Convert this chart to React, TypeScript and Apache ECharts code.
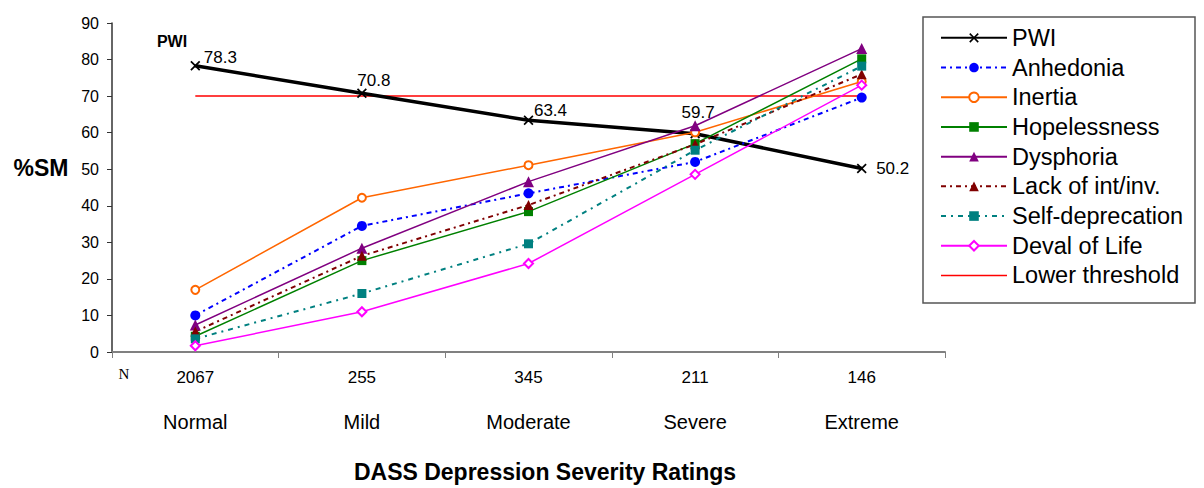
import React, { useEffect, useRef } from "react";
import * as echarts from "echarts";

const categories = ["Normal", "Mild", "Moderate", "Severe", "Extreme"];
const nValues = ["2067", "255", "345", "211", "146"];
const yTicks = { min: 0, max: 90, interval: 10 };

const pwi = [78.3, 70.8, 63.4, 59.7, 50.2];
const anhedonia = [10, 34.5, 43.4, 52, 69.6];
const inertia = [17, 42.2, 51.1, 60.1, 74];
const hopelessness = [4.3, 25, 38.4, 57, 80.2];
const dysphoria = [7.4, 28.4, 46.6, 61.9, 83];
const lackOfInt = [5.6, 26.3, 40.2, 56.8, 76];
const selfDeprecation = [3.6, 16, 29.6, 55.2, 78.2];
const devalOfLife = [1.7, 11, 24.2, 48.6, 73];
const lowerThreshold = [70, 70, 70, 70, 70];

const FONT = '"Liberation Sans", Arial, sans-serif';
const X_PATH =
  "path://M0,1.2 L1.2,0 L5,3.8 L8.8,0 L10,1.2 L6.2,5 L10,8.8 L8.8,10 L5,6.2 L1.2,10 L0,8.8 L3.8,5 Z";
const LINE_ICON = "path://M0,0 L66,0 L66,1.5 L0,1.5 Z";

// label offsets (style only) for PWI values
const pwiLabelOffsets = [
  [25, -8],
  [12, -13],
  [22, -10],
  [3, -21],
  [31, 0],
];

export default function App() {
  const ref = useRef<HTMLDivElement>(null);
  useEffect(() => {
    if (!ref.current) return;
    const chart = echarts.init(ref.current, undefined, { renderer: "svg" });
    const mk = (
      name: string,
      data: number[],
      color: string,
      symbol: string,
      symbolSize: number,
      lineType: any,
      width: number
    ) => ({
      name,
      type: "line",
      data,
      symbol,
      symbolSize,
      showSymbol: symbol !== "none",
      itemStyle: { color, borderColor: color, borderWidth: symbol.startsWith("empty") ? 1.5 : 0 },
      lineStyle: { color, type: lineType, width },
      emphasis: { disabled: true },
    });
    const option: any = {
      animation: false,
      backgroundColor: "#ffffff",
      textStyle: { fontFamily: FONT },
      grid: { left: 112, right: 259, top: 23, bottom: 136, containLabel: false },
      xAxis: {
        type: "category",
        data: categories,
        boundaryGap: true,
        axisLine: { lineStyle: { color: "#808080", width: 2 } },
        axisTick: { show: true, length: 6, lineStyle: { color: "#808080", width: 1 }, alignWithLabel: false },
        axisLabel: {
          interval: 0,
          margin: 3,
          color: "#000",
          formatter: (v: string, i: number) => `{n|${nValues[i]}}\n{c|${v}}`,
          rich: {
            n: { fontSize: 17, lineHeight: 45, fontFamily: FONT, color: "#000" },
            c: { fontSize: 20, lineHeight: 44, fontFamily: FONT, color: "#000" },
          },
        },
        splitLine: { show: false },
      },
      yAxis: {
        type: "value",
        min: yTicks.min,
        max: yTicks.max,
        interval: yTicks.interval,
        axisLine: { show: true, lineStyle: { color: "#333", width: 1.5 } },
        axisTick: { show: true, length: 5, lineStyle: { color: "#333" } },
        axisLabel: { fontSize: 16, color: "#000", margin: 13, fontFamily: FONT },
        splitLine: { show: false },
      },
      legend: {
        orient: "vertical",
        left: 940,
        top: 23,
        padding: 0,
        itemWidth: 66,
        itemHeight: 12,
        itemGap: 0,
        textStyle: { fontSize: 23.5, lineHeight: 29.7, color: "#000", fontFamily: FONT },
        data: [
          "PWI",
          "Anhedonia",
          "Inertia",
          "Hopelessness",
          "Dysphoria",
          "Lack of int/inv.",
          "Self-deprecation",
          "Deval of Life",
          { name: "Lower threshold", icon: LINE_ICON },
        ],
      },
      graphic: [
        {
          type: "rect",
          shape: { x: 923, y: 17, width: 272, height: 286 },
          style: { fill: "none", stroke: "#555", lineWidth: 1.5 },
          z: 0,
        },
        {
          type: "text",
          x: 41,
          y: 168,
          style: { text: "%SM", font: `bold 23px ${FONT}`, fill: "#000", align: "center", verticalAlign: "middle" },
        },
        {
          type: "text",
          x: 172,
          y: 41,
          style: { text: "PWI", font: `bold 16px ${FONT}`, fill: "#000", align: "center", verticalAlign: "middle" },
        },
        {
          type: "text",
          x: 124,
          y: 374,
          style: { text: "N", font: `15px "Liberation Serif", "Times New Roman", serif`, fill: "#000", align: "center", verticalAlign: "middle" },
        },
        {
          type: "text",
          x: 545,
          y: 472,
          style: {
            text: "DASS Depression Severity Ratings",
            font: `bold 23px ${FONT}`,
            fill: "#000",
            align: "center",
            verticalAlign: "middle",
          },
        },
      ],
      series: [
        mk("Lower threshold", lowerThreshold, "#ff0000", "none", 0, "solid", 1.5),
        {
          ...mk("PWI", pwi, "#000000", X_PATH, 10, "solid", 3.5),
          z: 3,
          data: pwi.map((v, i) => ({
            value: v,
            label: {
              show: true,
              position: "inside",
              offset: pwiLabelOffsets[i],
              formatter: String(v),
              fontSize: 17,
              color: "#000",
              fontFamily: FONT,
            },
          })),
        },
        mk("Anhedonia", anhedonia, "#0000ff", "circle", 10, [5, 4, 2, 4], 2),
        mk("Inertia", inertia, "#ff6600", "emptyCircle", 8, "solid", 1.5),
        mk("Hopelessness", hopelessness, "#008000", "rect", 9, "solid", 1.5),
        mk("Dysphoria", dysphoria, "#800080", "triangle", 11, "solid", 1.5),
        mk("Lack of int/inv.", lackOfInt, "#800000", "triangle", 10, [5, 4, 2, 4], 2),
        mk("Self-deprecation", selfDeprecation, "#008080", "rect", 9, [5, 5, 2, 5], 2),
        mk("Deval of Life", devalOfLife, "#ff00ff", "emptyDiamond", 9, "solid", 1.5),
      ],
    };
    chart.setOption(option);
    return () => chart.dispose();
  }, []);
  return <div ref={ref} style={{ width: 1204, height: 488, position: "absolute", left: 0, top: 0 }} />;
}
